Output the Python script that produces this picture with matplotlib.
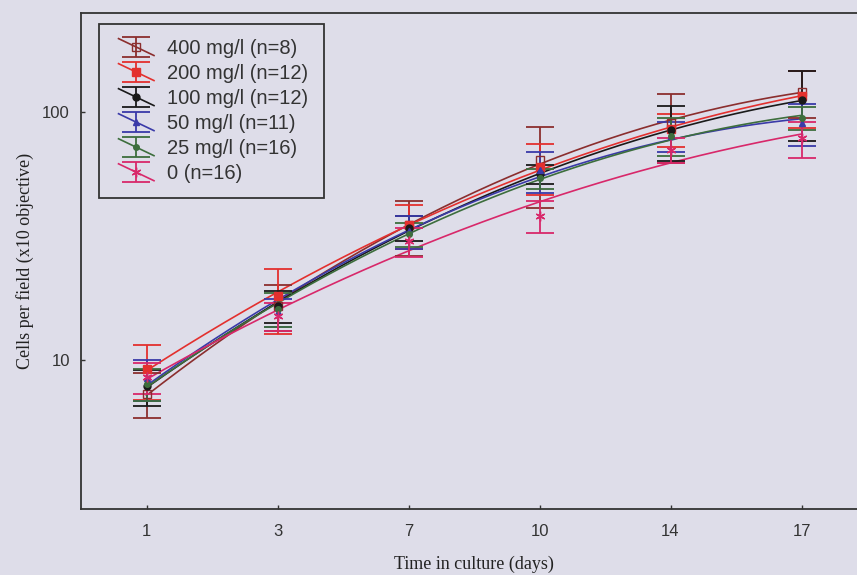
import matplotlib
matplotlib.use("Agg")
import matplotlib.pyplot as plt
import numpy as np
from matplotlib.lines import Line2D
from matplotlib.legend_handler import HandlerBase, HandlerTuple
from matplotlib.ticker import FixedLocator, FixedFormatter, NullLocator

# 数据部分
days = ['1', '3', '7', '10', '14', '17']
labels = ['400 mg/l (n=8)', '200 mg/l (n=12)', '100 mg/l (n=12)',
          '50 mg/l (n=11)', '25 mg/l (n=16)', '0 (n=16)']

mean_400 = [7.3, 16.5, 35, 64, 90, 120]
err_400 = [1.5, 3.5, 8.8, 23, 28, 26]
mean_200 = [9.2, 18, 35, 60, 85, 116]
err_200 = [2.3, 5.3, 7, 14, 13, 30]
mean_100 = [7.8, 16.5, 34, 56, 84, 111]
err_100 = [1.3, 2.5, 4, 5, 21, 35]
mean_50 = [8.4, 15.5, 33, 58, 80, 90]
err_50 = [1.6, 2.0, 5, 11, 11, 17]
mean_25 = [8.0, 16, 32, 54, 80, 94]
err_25 = [1.2, 2.5, 3.5, 5, 14, 10]
mean_0 = [8.5, 15, 30, 38, 70, 78]
err_0 = [1.2, 2.0, 4, 5.5, 8, 13]

means = [mean_400, mean_200, mean_100, mean_50, mean_25, mean_0]
errs = [err_400, err_200, err_100, err_50, err_25, err_0]
colors = ['#8b2e2e', '#e3302e', '#1a1a1a', '#3a3aa8', '#3d6e3d', '#d8286a']
markers = ['s', 's', 'o', '^', 'o', (6, 2, 0)]
mfcs = ['none', '#e3302e', '#1a1a1a', '#3a3aa8', '#3d6e3d', '#d8286a']
msizes = [6, 6, 5, 4, 4, 7]

bg = '#dedde9'
x = np.arange(len(days))
xf = np.linspace(0, len(days) - 1, 200)


# 图例里的斜线
class Diag(Line2D):
    pass


class HandlerDiag(HandlerBase):
    def create_artists(self, legend, orig_handle, xdescent, ydescent,
                       width, height, fontsize, trans):
        x0, x1 = -xdescent + 0.1 * width, -xdescent + 0.9 * width
        y0, y1 = -ydescent - 0.1 * height, -ydescent + 1.1 * height
        ln = Line2D([x0, x1], [y1, y0], color=orig_handle.get_color(), lw=1.2)
        ln.set_transform(trans)
        return [ln]


fig = plt.figure(figsize=(8.57, 5.75), dpi=100, facecolor=bg)
ax = fig.add_axes([81/857, 1 - 509/575, 786/857, 496/575])
ax.set_facecolor(bg)

handles = []
for m, e, c, mk, mfc, ms in zip(means, errs, colors, markers, mfcs, msizes):
    m = np.array(m, dtype=float)
    # 拟合曲线 (对数空间二次拟合)
    coef = np.polyfit(x, np.log10(m), 2)
    ax.plot(xf, 10 ** np.polyval(coef, xf), color=c, linewidth=1.2, zorder=2)
    eb = ax.errorbar(x, m, yerr=e, marker=mk, linestyle='-', color=c, mfc=mfc, mec=c,
                     ms=ms, ecolor=c, elinewidth=1.3, capsize=10, capthick=1.3,
                     linewidth=0, zorder=3)
    handles.append((eb, Diag([], [], color=c)))

ax.set_yscale('log')
ax.set_ylim(2.5, 250)
ax.set_xlim(-0.5, 5.5)
ax.yaxis.set_major_locator(FixedLocator([10, 100]))
ax.yaxis.set_major_formatter(FixedFormatter(['10', '100']))
ax.yaxis.set_minor_locator(NullLocator())
ax.set_xticks(x)
ax.set_xticklabels(days)

ax.tick_params(axis='both', direction='in', length=3, width=1, colors='#333333',
               labelsize=12)
ax.tick_params(axis='x', pad=11)
ax.tick_params(axis='y', pad=8)
for lbl in ax.get_xticklabels() + ax.get_yticklabels():
    lbl.set_family('Liberation Sans')

for s in ['left', 'bottom', 'top']:
    ax.spines[s].set_color('#333333')
    ax.spines[s].set_linewidth(1.3)
ax.spines['right'].set_visible(False)

ax.set_xlabel('Time in culture (days)', family='Liberation Serif', fontsize=13,
              color='#222222', labelpad=12)
ax.set_ylabel('Cells per field (x10 objective)', family='Liberation Serif',
              fontsize=13, color='#222222', labelpad=6)

leg = ax.legend(handles, labels, handler_map={Diag: HandlerDiag(),
                                              tuple: HandlerTuple(ndivide=1, pad=0)},
                loc='upper left', bbox_to_anchor=((99-81)/786, 1 - (24-13)/496),
                borderaxespad=0, fancybox=False, frameon=True, edgecolor='#333333',
                facecolor=bg, framealpha=1, borderpad=0.75, handlelength=2.2,
                handletextpad=0.45, labelspacing=0.3,
                prop={'family': 'Liberation Sans', 'size': 14.5})
leg.get_frame().set_linewidth(1.3)
for t in leg.get_texts():
    t.set_color('#333333')

plt.savefig('out.png', dpi=100, facecolor=bg)
